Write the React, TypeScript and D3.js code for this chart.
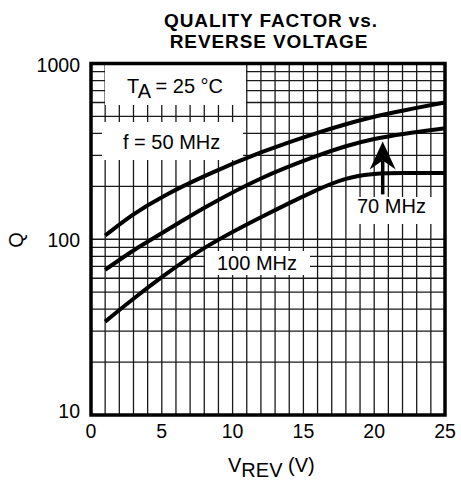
import React from "react";
import * as d3 from "d3";

const title = ["QUALITY FACTOR vs.", "REVERSE VOLTAGE"];
const voltages = [1, 3, 5, 8, 12, 16, 18, 20, 22, 25];
const q50MHz = [105, 140, 175, 230, 315, 405, 452, 500, 540, 600];
const q70MHz = [67, 87, 108, 152, 226, 300, 340, 374, 398, 428];
const q100MHz = [34, 46, 61, 91, 134, 193, 224, 237, 238, 238];
const xTicks = [0, 5, 10, 15, 20, 25];
const yTicks = [10, 100, 1000];
const yGrid = [20, 30, 40, 50, 60, 70, 80, 90, 100, 200, 300, 400, 500, 600, 700, 800, 900];
const arrowV = 20.6;
const arrowQ = [180, 360];

const W = 461;
const H = 480;
const FONT = "'Liberation Sans', Arial, Helvetica, sans-serif";

export default function App() {
  const x = d3.scaleLinear().domain([0, 25]).range([91, 445]);
  const y = d3.scaleLog().domain([10, 1000]).range([415, 63.5]);

  const line = d3
    .line<number>()
    .x((_, i) => x(voltages[i]))
    .y((d) => y(d))
    .curve(d3.curveBasis);

  const vGrid = d3.range(1, 25);
  const ax = x(arrowV);
  const tipY = y(arrowQ[1]);
  const baseY = tipY + 28;
  const notchY = tipY + 19;
  const shaftBottom = y(arrowQ[0]);

  const grid = "#1a1a1a";

  return (
    <svg
      width={W}
      height={H}
      style={{ position: "absolute", left: 0, top: 0, background: "#fff" }}
      fontFamily={FONT}
    >
      <rect x={0} y={0} width={W} height={H} fill="#fff" />
      {/* title */}
      <text x={271} y={26.5} textAnchor="middle" fontWeight="bold" fontSize={19} letterSpacing={0.9}>
        {title[0]}
      </text>
      <text x={269} y={48} textAnchor="middle" fontWeight="bold" fontSize={19} letterSpacing={0.9}>
        {title[1]}
      </text>

      {/* grid */}
      {vGrid.map((v) => (
        <line key={"v" + v} x1={x(v)} x2={x(v)} y1={y(1000)} y2={y(10)} stroke={grid} strokeWidth={1.3} />
      ))}
      {yGrid.map((q) => (
        <line key={"h" + q} x1={x(0)} x2={x(25)} y1={y(q)} y2={y(q)} stroke={grid} strokeWidth={1.3} />
      ))}

      {/* label boxes */}
      <rect x={105} y={65} width={141} height={40} fill="#fff" />
      <rect x={102} y={122} width={141} height={38} fill="#fff" />
      <rect x={205} y={251} width={105} height={24} fill="#fff" />
      <rect x={353} y={197} width={79} height={27} fill="#fff" />

      {/* curves */}
      {[q50MHz, q70MHz, q100MHz].map((s, i) => (
        <path key={i} d={line(s) || ""} fill="none" stroke="#000" strokeWidth={4} />
      ))}

      {/* arrow */}
      <line x1={ax} x2={ax} y1={notchY} y2={shaftBottom} stroke="#000" strokeWidth={3.5} />
      <path
        d={`M${ax},${tipY} L${ax + 13},${baseY} L${ax},${notchY} L${ax - 13},${baseY} Z`}
        fill="#000"
      />

      {/* frame */}
      <rect
        x={x(0)}
        y={y(1000)}
        width={x(25) - x(0)}
        height={y(10) - y(1000)}
        fill="none"
        stroke="#000"
        strokeWidth={3.5}
      />

      {/* annotations */}
      <text x={127} y={93} fontSize={20}>
        T<tspan dy={5}>A</tspan>
        <tspan dy={-5}> = 25 °C</tspan>
      </text>
      <text x={123} y={149} fontSize={20}>f = 50 MHz</text>
      <text x={357} y={213} fontSize={20}>70 MHz</text>
      <text x={217} y={270} fontSize={20}>100 MHz</text>

      {/* x ticks */}
      {xTicks.map((t) => (
        <text key={"xt" + t} x={x(t)} y={438} textAnchor="middle" fontSize={19.5}>
          {t}
        </text>
      ))}
      {/* y ticks */}
      {yTicks.map((t) => (
        <text
          key={"yt" + t}
          x={80}
          y={t === 10 ? y(t) - 4 : y(t) + 1}
          textAnchor="end"
          dominantBaseline="central"
          fontSize={19.5}
        >
          {t}
        </text>
      ))}

      {/* axis titles */}
      <text x={16} y={240} fontSize={20} textAnchor="middle" dominantBaseline="central" transform="rotate(-90 16 240)">
        Q
      </text>
      <text x={228} y={472} fontSize={20}>
        V<tspan dy={5}>REV</tspan>
        <tspan dy={-5}> (V)</tspan>
      </text>
    </svg>
  );
}
